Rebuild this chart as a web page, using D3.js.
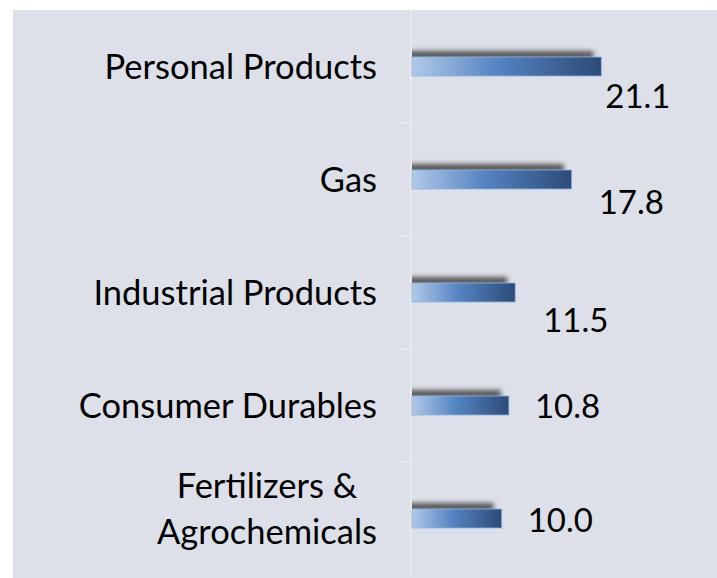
<!DOCTYPE html>
<html>
<head>
<meta charset="utf-8">
<script src="https://cdn.jsdelivr.net/npm/d3@7"></script>
<style>
  html, body { margin: 0; padding: 0; background: #ffffff; }
  svg text { font-family: Lato, "Open Sans", sans-serif; fill: #000; }
</style>
</head>
<body>
<div id="chart"></div>
<script>
const categories = ['Personal Products', 'Gas', 'Industrial Products', 'Consumer Durables', 'Fertilizers & Agrochemicals'];
const catLines = [['Personal Products'], ['Gas'], ['Industrial Products'], ['Consumer Durables'], ['Fertilizers &', 'Agrochemicals']];
const values = [21.1, 17.8, 11.5, 10.8, 10.0];
const valueLabels = ['21.1', '17.8', '11.5', '10.8', '10.0'];

const svgWidth = 717;
const svgHeight = 578;
const plot = { left: 412, right: 717, top: 10, bottom: 575 };
const barH = 19;
const catFont = 34.5;
const valFont = 33;

// label nudges (dx from bar end, dy from bar centre to baseline)
const labelShift = [[4, 41.5], [27, 34], [28, 39.5], [26, 12.5], [26, 13.5]];

const svg = d3.select('#chart')
    .append('svg')
    .attr('width', svgWidth)
    .attr('height', svgHeight);

const defs = svg.append('defs');
const grad = defs.append('linearGradient')
    .attr('id', 'barGrad')
    .attr('x1', '0%').attr('x2', '100%').attr('y1', '0%').attr('y2', '0%');
grad.append('stop').attr('offset', '0%').attr('stop-color', '#b0c9e8');
grad.append('stop').attr('offset', '45%').attr('stop-color', '#5584c3');
grad.append('stop').attr('offset', '100%').attr('stop-color', '#2c4b77');

defs.append('filter')
    .attr('id', 'blur')
    .attr('x', '-10%').attr('y', '-100%').attr('width', '120%').attr('height', '300%')
    .append('feGaussianBlur')
    .attr('stdDeviation', 2.8);

defs.append('clipPath')
    .attr('id', 'plotClip')
    .append('rect')
    .attr('x', plot.left)
    .attr('y', plot.top)
    .attr('width', plot.right - plot.left)
    .attr('height', plot.bottom - plot.top);

svg.append('rect')
    .attr('x', 13)
    .attr('y', 10)
    .attr('width', svgWidth - 13)
    .attr('height', svgHeight - 10)
    .attr('fill', '#dde0e8');

const x = d3.scaleLinear()
    .domain([0, 34])
    .range([plot.left, plot.right]);

const y = d3.scaleBand()
    .domain(categories)
    .range([plot.top, plot.bottom])
    .padding(0);

const mid = c => y(c) + y.bandwidth() / 2;

// axis line and ticks between categories
svg.append('line')
    .attr('x1', plot.left - 1).attr('x2', plot.left - 1)
    .attr('y1', plot.top).attr('y2', plot.bottom)
    .attr('stroke', '#e9e9ea')
    .attr('stroke-width', 2);

svg.selectAll('.tick')
    .data(categories.slice(1))
    .enter().append('line')
    .attr('class', 'tick')
    .attr('x1', plot.left - 12).attr('x2', plot.left)
    .attr('y1', d => y(d)).attr('y2', d => y(d))
    .attr('stroke', '#e9e9ea')
    .attr('stroke-width', 2);

const shadows = svg.append('g').attr('clip-path', 'url(#plotClip)');
shadows.selectAll('.shadow')
    .data(values)
    .enter().append('rect')
    .attr('class', 'shadow')
    .attr('x', x(0) - 6)
    .attr('y', (d, i) => mid(categories[i]) - barH / 2 - 6)
    .attr('width', d => x(d) - x(0) - 2)
    .attr('height', 8)
    .attr('fill', '#555555')
    .attr('filter', 'url(#blur)');

svg.selectAll('.bar')
    .data(values)
    .enter().append('rect')
    .attr('class', 'bar')
    .attr('x', x(0))
    .attr('y', (d, i) => mid(categories[i]) - barH / 2)
    .attr('width', d => x(d) - x(0))
    .attr('height', barH)
    .attr('fill', 'url(#barGrad)')
    .attr('stroke', '#8fb1e0')
    .attr('stroke-width', 0.8);

svg.selectAll('.val')
    .data(values)
    .enter().append('text')
    .attr('class', 'val')
    .attr('x', (d, i) => x(d) + labelShift[i][0])
    .attr('y', (d, i) => mid(categories[i]) + labelShift[i][1])
    .style('font-size', valFont + 'px')
    .text((d, i) => valueLabels[i]);

// category labels, multi-line ones centred as a block
const lineGap = 46;
catLines.forEach((lines, i) => {
    const g = svg.append('g');
    const base = lines.length > 1 ? 2.5 : 12;
    const texts = lines.map((t, k) => g.append('text')
        .attr('y', mid(categories[i]) + base + (k - (lines.length - 1) / 2) * lineGap)
        .style('font-size', catFont + 'px')
        .text(t));
    const w = d3.max(texts, t => t.node().getComputedTextLength());
    texts.forEach(t => t.attr('x', 377 - w / 2).attr('text-anchor', 'middle'));
});
</script>
</body>
</html>
